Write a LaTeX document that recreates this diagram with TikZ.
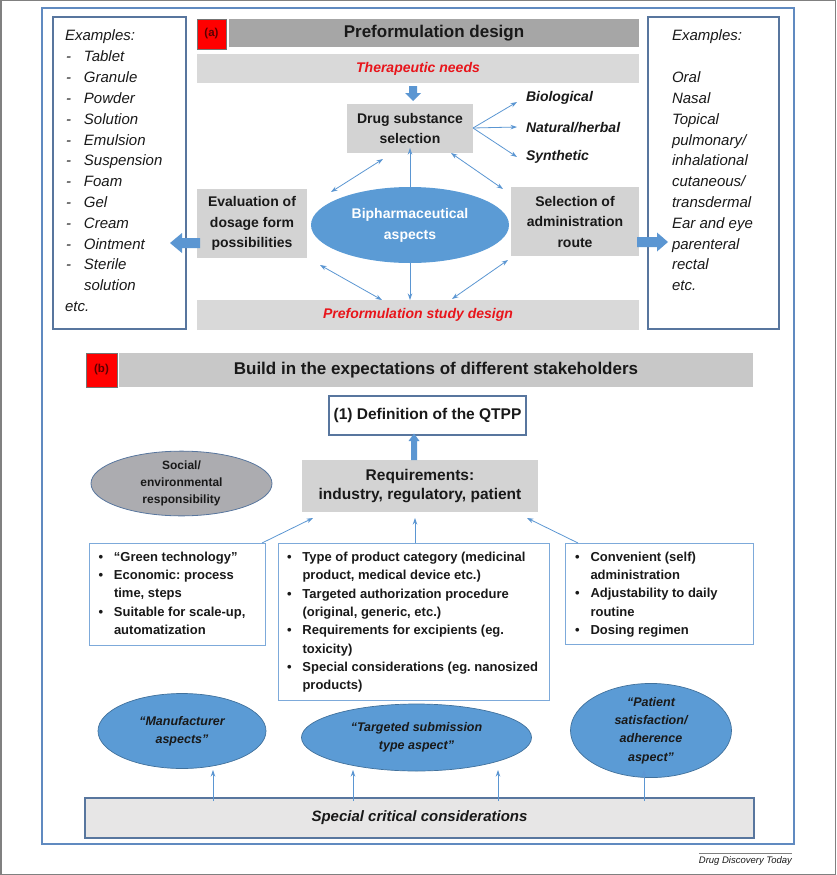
\documentclass[tikz,border=0pt]{standalone}
\usepackage{fontspec}
\setmainfont{Liberation Sans}
\usetikzlibrary{arrows.meta,shapes.geometric}
\definecolor{frameblue}{RGB}{96,138,192}
\definecolor{ellblue}{RGB}{91,155,213}
\definecolor{ellborder}{RGB}{65,113,156}
\definecolor{arrblue}{RGB}{91,150,210}
\definecolor{boxgray}{RGB}{211,211,211}
\definecolor{bargray}{RGB}{217,217,217}
\definecolor{headgray}{RGB}{166,166,166}
\definecolor{headbgray}{RGB}{200,200,200}
\definecolor{socgray}{RGB}{172,172,176}
\definecolor{specgray}{RGB}{231,230,230}
\definecolor{txtred}{RGB}{232,21,27}
\definecolor{slate}{RGB}{88,118,158}
\definecolor{lightframe}{RGB}{125,170,218}
\definecolor{txt}{RGB}{25,25,25}
\definecolor{tagtxt}{RGB}{90,0,0}
\newcommand\fsz[2]{\fontsize{#1}{#2}\selectfont}
\newcommand\bul{\makebox[15.5pt][l]{•}}
\newcommand\ind{\hspace*{15.5pt}}
\newcommand\dsh{\makebox[18pt][l]{-}}
\frenchspacing
\begin{document}
\begin{tikzpicture}[x=1pt,y=-1pt,
  every node/.style={inner sep=0pt,outer sep=0pt,text=txt},
  graybox/.style={fill=boxgray,align=center,font=\bfseries\fsz{14}{20.5}},
  bar/.style={fill=bargray,font=\bfseries\itshape\fsz{14}{17},text=txtred},
  tagbox/.style={fill=red,draw=black!55,line width=0.6pt,font=\bfseries\fsz{11.5}{13},text=tagtxt},
  exbox/.style={draw=slate,line width=1.2pt},
  listbox/.style={draw=lightframe,line width=1pt},
  exitem/.style={anchor=base west,font=\itshape\fsz{15}{18}},
  blitem/.style={anchor=base west,font=\bfseries\fsz{13}{16}},
  blueell/.style={ellipse,fill=ellblue,draw=ellborder,line width=0.7pt,align=center},
  arr/.style={draw=arrblue,line width=0.8pt,-{Stealth[length=6.5pt,width=4.5pt]}},
  darr/.style={draw=arrblue,line width=0.8pt,{Stealth[length=6.5pt,width=4.5pt]}-{Stealth[length=6.5pt,width=4.5pt]}},
  blockarr/.style={fill=arrblue}]
\useasboundingbox (0,0) rectangle (836,875);
\draw[gray,line width=1.5pt] (0.75,0.75) rectangle (835.25,874.25);
% main frame
\node[draw=frameblue,line width=1.4pt,minimum width=752pt,minimum height=836pt] (frame) at (418,426) {};

% ---------- panel (a) ----------
\node[exbox,minimum width=133pt,minimum height=312pt] (exl) at (119.5,173) {};
\node[exbox,minimum width=131pt,minimum height=312pt] (exr) at (713.5,173) {};
\node[tagbox,minimum width=29pt,minimum height=30pt] (taga) at (211.5,34) {(a)};
\node[fill=headgray,minimum width=410pt,minimum height=28pt,font=\bfseries\fsz{17}{20}] (heada) at (434,33) {Preformulation design};
\node[bar,minimum width=442pt,minimum height=29pt] (thera) at (418,68.5) {Therapeutic needs};
\node[graybox,minimum width=126pt,minimum height=49pt] (drug) at (410,128.5) {Drug substance\\selection};
\node[graybox,minimum width=110pt,minimum height=69pt] (eval) at (252,223.5) {Evaluation of\\dosage form\\possibilities};
\node[graybox,minimum width=128pt,minimum height=69pt] (sel) at (575,221.5) {Selection of\\administration\\route};
\node[ellipse,fill=ellblue,minimum width=198pt,minimum height=76pt,align=center,text=white,font=\bfseries\fsz{14}{21}] (bio) at (410,225) {Bipharmaceutical\\aspects};
\node[bar,minimum width=442pt,minimum height=30pt] (study) at (418,315) {Preformulation study design};

\node[anchor=west,font=\bfseries\itshape\fsz{14}{17}] (src1) at (526,98) {Biological};
\node[anchor=west,font=\bfseries\itshape\fsz{14}{17}] (src2) at (526,127.5) {Natural/herbal};
\node[anchor=west,font=\bfseries\itshape\fsz{14}{17}] (src3) at (526,157) {Synthetic};
\coordinate (s1) at (517,102);
\coordinate (s2) at (517,127);
\coordinate (s3) at (517,157);
\coordinate (dorig) at (473,128);
\draw[arr] (dorig) -- (s1);
\draw[arr] (dorig) -- (s2);
\draw[arr] (dorig) -- (s3);

% block arrows
\fill[blockarr] (409,86) -- (417,86) -- (417,93) -- (421,93) -- (413,101) -- (405,93) -- (409,93) -- cycle;
\fill[blockarr] (200,238) -- (182,238) -- (182,233) -- (170,243) -- (182,253) -- (182,248) -- (200,248) -- cycle;
\fill[blockarr] (637,237) -- (657,237) -- (657,232.5) -- (668,242) -- (657,251.5) -- (657,247) -- (637,247) -- cycle;

% thin arrows (a)
\coordinate (c1) at (383,159);
\coordinate (c2) at (331,192);
\draw[darr] (c2) -- (c1);
\draw[arr] (bio.north) -- ([yshift=5pt]drug.south);
\coordinate (c3) at (451,153);
\coordinate (c4) at (503,189);
\draw[darr] (c3) -- (c4);
\draw[arr] (bio.south) -- (bio.south |- study.north);
\coordinate (c5) at (320,265);
\coordinate (c6) at (382,300);
\draw[darr] (c5) -- (c6);
\coordinate (c7) at (452,299);
\coordinate (c8) at (508,260);
\draw[darr] (c7) -- (c8);

% example lists
\node[exitem] (exlh) at (65,41) {Examples:};
\foreach \t [count=\i] in {Tablet,Granule,Powder,Solution,Emulsion,Suspension,Foam,Gel,Cream,Ointment,Sterile}
  \node[exitem] (exl\i) at (66,{41+\i*20.8}) {\dsh\t};
\node[exitem] (exl12) at (84,{41+12*20.8}) {solution};
\node[exitem] (exl13) at (65,{41+13*20.8}) {etc.};

\node[exitem] (exrh) at (672,41) {Examples:};
\foreach \t [count=\i from 2] in {Oral,Nasal,Topical,pulmonary/,inhalational,cutaneous/,transdermal,Ear and eye,parenteral,rectal,etc.}
  \node[exitem] (exr\i) at (672,{41+\i*20.8}) {\t};

% ---------- panel (b) ----------
\node[tagbox,minimum width=31pt,minimum height=34pt] (tagb) at (101.5,370) {(b)};
\node[fill=headbgray,minimum width=634pt,minimum height=34pt,font=\bfseries\fsz{17}{20}] (headb) at (436,370) {Build in the expectations of different stakeholders};
\node[draw=slate,line width=1.5pt,fill=white,minimum width=197pt,minimum height=39pt,font=\bfseries\fsz{15.5}{18}] (qtpp) at (427.5,415.5) {(1) Definition of the QTPP};
\node[fill=boxgray,minimum width=236pt,minimum height=52pt,align=center,font=\bfseries\fsz{15.5}{19.5}] (req) at (420,486) {Requirements:\\industry, regulatory, patient};
\node[ellipse,fill=socgray,draw=slate,line width=0.8pt,minimum width=181pt,minimum height=53pt,align=center,font=\bfseries\fsz{12}{17.3}] (soc) at (181.5,483.5) {Social/\\environmental\\responsibility};
\fill[blockarr] (411,460) -- (411,441) -- (408.5,441) -- (414,433.5) -- (419.5,441) -- (417,441) -- (417,460) -- cycle;

\node[listbox,minimum width=176pt,minimum height=102pt] (lb) at (177,594) {};
\node[listbox,minimum width=271pt,minimum height=157pt] (mb) at (413.5,621.5) {};
\node[listbox,minimum width=188pt,minimum height=101pt] (rb) at (659,593.5) {};

\foreach \t [count=\i from 0] in {\bul “Green technology”,\bul Economic: process,\ind time{,} steps,\bul Suitable for scale-up{,},\ind automatization}
  \node[blitem] (lbl\i) at (98.5,{561.5+\i*18.2}) {\t};
\foreach \t [count=\i from 0] in {\bul Type of product category (medicinal,\ind product{,} medical device etc.),\bul Targeted authorization procedure,\ind (original{,} generic{,} etc.),\bul Requirements for excipients (eg.,\ind toxicity),\bul Special considerations (eg. nanosized,\ind products)}
  \node[blitem] (mbl\i) at (287,{561.5+\i*18.3}) {\t};
\foreach \t [count=\i from 0] in {\bul Convenient (self),\ind administration,\bul Adjustability to daily,\ind routine,\bul Dosing regimen}
  \node[blitem] (rbl\i) at (575,{561.5+\i*18.2}) {\t};

\coordinate (q1) at (313,518);
\coordinate (q2) at (415,518);
\coordinate (q3) at (527,518);
\draw[arr] ([xshift=-3pt]lb.north east) -- (q1);
\draw[arr] (mb.north -| q2) -- (q2);
\draw[arr] ([xshift=13pt]rb.north west) -- (q3);

\node[blueell,minimum width=168pt,minimum height=75pt,font=\bfseries\itshape\fsz{12.5}{18.3}] (man) at (182,731) {“Manufacturer\\aspects”};
\node[blueell,minimum width=230pt,minimum height=67pt,font=\bfseries\itshape\fsz{12.5}{18.3}] (tgt) at (416.5,737.5) {“Targeted submission\\type aspect”};
\node[blueell,minimum width=161pt,minimum height=75pt,font=\bfseries\itshape\fsz{12.5}{18.3}] (pat) at (651,730.5) {“Patient\\satisfaction/\\adherence\\aspect”};

\node[fill=specgray,draw=slate,line width=2pt,minimum width=669pt,minimum height=40pt,font=\bfseries\itshape\fsz{15}{18}] (spec) at (419.5,818) {Special critical considerations};
\coordinate (b1) at (213,770);
\coordinate (b2) at (353,770);
\coordinate (b3) at (498,770);
\coordinate (b4) at (644,770);
\foreach \b in {b1,b2,b3,b4} \draw[arr] ([yshift=-3pt]spec.north -| \b) -- (\b);

% credit
\node[anchor=east,font=\itshape\fsz{9.5}{11}] (credit) at (792,861) {Drug Discovery Today};
\draw[gray,line width=0.6pt] (credit.west |- 0,853) -- (credit.east |- 0,853);
\end{tikzpicture}
\end{document}
